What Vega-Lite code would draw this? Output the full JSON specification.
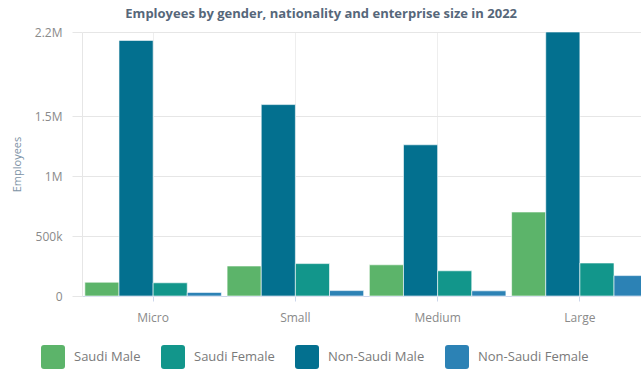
{
  "$schema": "https://vega.github.io/schema/vega-lite/v6.json",
  "autosize": {"type": "none"},
  "padding": {"left": 82, "top": 32, "right": 0, "bottom": 75},
  "width": 559,
  "height": 264,
  "background": "#ffffff",
  "title": {
    "text": "Employees by gender, nationality and enterprise size in 2022",
    "font": "Open Sans",
    "fontSize": 13,
    "fontWeight": "bold",
    "color": "#56677a",
    "anchor": "start",
    "dx": 114,
    "offset": 5
  },
  "data": {
    "values": [
      {"size": "Micro", "group": "Saudi Male", "employees": 115000},
      {"size": "Micro", "group": "Non-Saudi Male", "employees": 2130000},
      {"size": "Micro", "group": "Saudi Female", "employees": 110000},
      {"size": "Micro", "group": "Non-Saudi Female", "employees": 30000},
      {"size": "Small", "group": "Saudi Male", "employees": 250000},
      {"size": "Small", "group": "Non-Saudi Male", "employees": 1595000},
      {"size": "Small", "group": "Saudi Female", "employees": 270000},
      {"size": "Small", "group": "Non-Saudi Female", "employees": 45000},
      {"size": "Medium", "group": "Saudi Male", "employees": 260000},
      {"size": "Medium", "group": "Non-Saudi Male", "employees": 1260000},
      {"size": "Medium", "group": "Saudi Female", "employees": 210000},
      {"size": "Medium", "group": "Non-Saudi Female", "employees": 43000},
      {"size": "Large", "group": "Saudi Male", "employees": 700000},
      {"size": "Large", "group": "Non-Saudi Male", "employees": 2200000},
      {"size": "Large", "group": "Saudi Female", "employees": 275000},
      {"size": "Large", "group": "Non-Saudi Female", "employees": 170000}
    ]
  },
  "mark": {"type": "bar", "stroke": "#ffffff", "strokeWidth": 0.6},
  "encoding": {
    "x": {
      "field": "size",
      "type": "nominal",
      "sort": ["Micro", "Small", "Medium", "Large"],
      "scale": {"range": [0, 569], "paddingInner": 0.04, "paddingOuter": 0.02},
      "axis": {
        "title": null,
        "labelAngle": 0,
        "labelFont": "Open Sans",
        "labelFontSize": 12,
        "labelColor": "#8a8a8a",
        "labelPadding": 11,
        "tickSize": 5,
        "tickColor": "#ccd6eb",
        "domainColor": "#ccd6eb",
        "grid": true,
        "gridColor": "#eeeeee"
      }
    },
    "xOffset": {
      "field": "group",
      "type": "nominal",
      "sort": ["Saudi Male", "Non-Saudi Male", "Saudi Female", "Non-Saudi Female"],
      "scale": {"paddingInner": 0, "paddingOuter": 0}
    },
    "y": {
      "field": "employees",
      "type": "quantitative",
      "scale": {"domain": [0, 2200000], "nice": false},
      "axis": {
        "title": "Employees",
        "titleFont": "Open Sans",
        "titleFontSize": 11,
        "titleFontWeight": "normal",
        "titleColor": "#7d93a6",
        "titlePadding": 12,
        "values": [0, 500000, 1000000, 1500000, 2200000],
        "labelExpr": "datum.value == 0 ? '0' : (datum.value < 1000000 ? (datum.value / 1000) + 'k' : (datum.value / 1000000) + 'M')",
        "labelFont": "Open Sans",
        "labelFontSize": 12,
        "labelColor": "#8a8a8a",
        "labelPadding": 10,
        "tickSize": 10,
        "tickColor": "#e6e6e6",
        "domain": true,
        "domainColor": "#e6e6e6",
        "gridColor": "#e6e6e6"
      }
    },
    "color": {
      "field": "group",
      "type": "nominal",
      "scale": {
        "domain": ["Saudi Male", "Saudi Female", "Non-Saudi Male", "Non-Saudi Female"],
        "range": ["#5cb46a", "#12968b", "#03708f", "#2c82b5"]
      },
      "legend": {
        "title": null,
        "orient": "none",
        "direction": "horizontal",
        "legendX": -41,
        "legendY": 313,
        "symbolType": "M -0.75,-1 L 0.75,-1 Q 1,-1 1,-0.75 L 1,0.75 Q 1,1 0.75,1 L -0.75,1 Q -1,1 -1,0.75 L -1,-0.75 Q -1,-1 -0.75,-1 Z",
        "symbolSize": 576,
        "symbolStrokeWidth": 0,
        "symbolOpacity": 1,
        "labelFont": "Open Sans",
        "labelFontSize": 13,
        "labelColor": "#7a7a7a",
        "labelOffset": 9,
        "columnPadding": 20
      }
    }
  },
  "config": {
    "view": {"stroke": null},
    "axis": {"gridWidth": 1}
  }
}
